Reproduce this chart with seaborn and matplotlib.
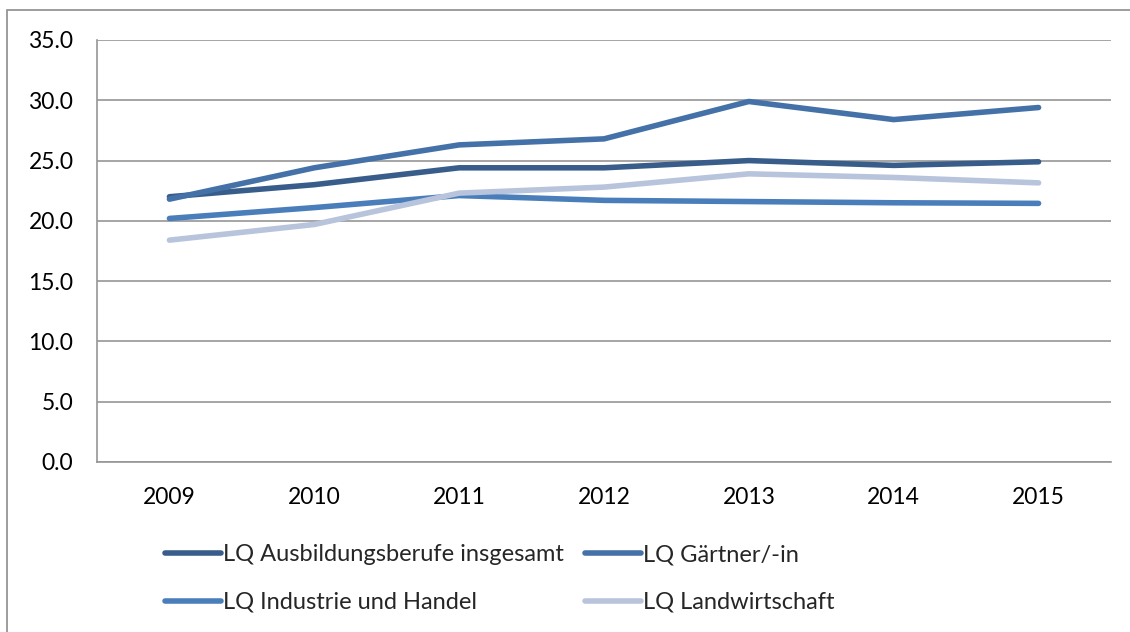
import pandas as pd
import numpy as np
import matplotlib
matplotlib.use("Agg")
import matplotlib.pyplot as plt
import seaborn as sns
from matplotlib.patches import Rectangle

# values
years = [2009, 2010, 2011, 2012, 2013, 2014, 2015]
ausbildung = [22.0, 23.0, 24.4, 24.4, 25.0, 24.6, 24.9]
gaertner = [21.8, 24.4, 26.3, 26.8, 29.9, 28.4, 29.4]
industrie = [20.2, 21.1, 22.1, 21.7, 21.6, 21.5, 21.45]
landwirtschaft = [18.4, 19.7, 22.3, 22.8, 23.9, 23.6, 23.15]

series_names = ["LQ Ausbildungsberufe insgesamt", "LQ Gärtner/-in",
                "LQ Industrie und Handel", "LQ Landwirtschaft"]
colors = ["#385D8A", "#4471A7", "#4A7EBB", "#B8C4DC"]

df = pd.concat([
    pd.DataFrame({"year": years, "value": vals, "series": name})
    for name, vals in zip(series_names, [ausbildung, gaertner, industrie, landwirtschaft])
])

sns.set_theme(style="white")
plt.rcParams["font.family"] = ["Lato", "DejaVu Sans"]

fig = plt.figure(figsize=(11.3, 6.32), dpi=100)
ax = fig.add_axes([97 / 1130, 1 - 462 / 632, (1111 - 97) / 1130, (462 - 40) / 632])

# outer chart frame
fig.patches.append(Rectangle((7 / 1130, -0.05), 1.2, 1 - 10 / 632 + 0.05,
                             transform=fig.transFigure, fill=False,
                             edgecolor="#8c8c8c", linewidth=1.2))

sns.lineplot(data=df, x="year", y="value", hue="series", palette=colors,
             linewidth=4, ax=ax, legend=False, solid_capstyle="round")

ax.set_xlim(2008.5, 2015.5)
ax.set_ylim(0, 35)
ax.set_yticks(np.arange(0, 35.1, 5))
ax.set_yticklabels([f"{v:.1f}" for v in np.arange(0, 35.1, 5)])
ax.set_xticks(years)
ax.set_xticklabels([str(y) for y in years])
ax.set_xlabel("")
ax.set_ylabel("")
ax.grid(axis="y", color="#969696", linewidth=1.2)
ax.set_axisbelow(True)
for s in ["top", "right"]:
    ax.spines[s].set_visible(False)
for s in ["left", "bottom"]:
    ax.spines[s].set_color("#969696")
    ax.spines[s].set_linewidth(1.2)
ax.tick_params(axis="both", length=0, labelsize=16.5, colors="black")
ax.tick_params(axis="y", pad=17)
ax.tick_params(axis="x", pad=18)

handles = [plt.Line2D([], [], color=c, linewidth=4, solid_capstyle="round") for c in colors]
order = [0, 2, 1, 3]
fig.legend([handles[i] for i in order], [series_names[i] for i in order],
           loc="upper left", bbox_to_anchor=(156 / 1130, 1 - 535 / 632), ncol=2,
           frameon=False, fontsize=17, handlelength=2.35, handletextpad=0.1,
           columnspacing=0.9, labelspacing=1.12, borderaxespad=0)

fig.savefig("out.png", dpi=100)
